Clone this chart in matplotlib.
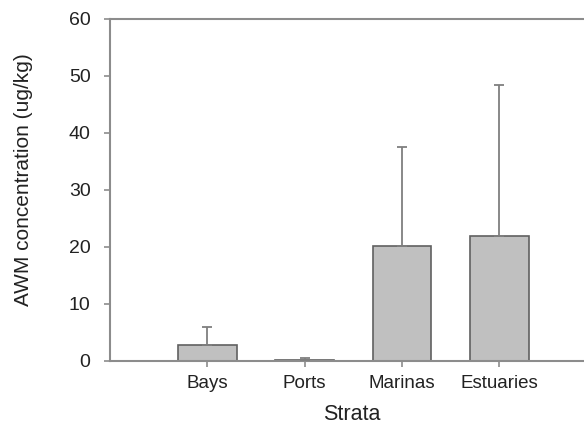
import matplotlib

matplotlib.use('Agg')

import matplotlib.pyplot as plt

plt.rcParams.update({
    'font.family': 'Liberation Sans',
    'font.size': 14,
    'text.color': '#222222',
    'axes.labelcolor': '#222222',
    'xtick.color': '#8c8c8c',
    'ytick.color': '#8c8c8c',
    'xtick.labelcolor': '#222222',
    'ytick.labelcolor': '#222222',
})

strata = ['Bays', 'Ports', 'Marinas', 'Estuaries']
positions = [1, 2, 3, 4]
means = [2.75, 0.25, 20.1, 22.0]
upper_err = [3.3, 0.2, 17.5, 26.4]

fig = plt.figure(figsize=(5.84, 4.26), dpi=100)
ax = fig.add_axes([0.1884, 0.1526, 0.8116, 0.8028])

ax.bar(positions, means, width=0.6, color='#c0c0c0', edgecolor='#606060',
       linewidth=1.2, zorder=2)
ax.errorbar(positions, means, yerr=[[0] * len(means), upper_err], fmt='none',
            ecolor='#7f7f7f', elinewidth=1.3, capsize=3.5, capthick=1.3, zorder=3)

ax.set_xlim(0, 4.87)
ax.set_ylim(0, 60)
ax.set_yticks(range(0, 61, 10))
ax.set_xticks(positions)
ax.set_xticklabels(strata, fontsize=13.5)
ax.tick_params(axis='y', length=4, width=1.2, pad=10, labelsize=14)
ax.tick_params(axis='x', length=4, width=1.2, pad=6)

for side in ['left', 'bottom', 'top']:
    ax.spines[side].set_color('#8c8c8c')
    ax.spines[side].set_linewidth(1.5)
ax.spines['right'].set_visible(False)

ax.set_xlabel('Strata', fontsize=15.5, labelpad=9, x=0.51)
ax.set_ylabel('AWM concentration (ug/kg)', fontsize=15, labelpad=26, y=0.53)

fig.savefig('out.png', dpi=100)
